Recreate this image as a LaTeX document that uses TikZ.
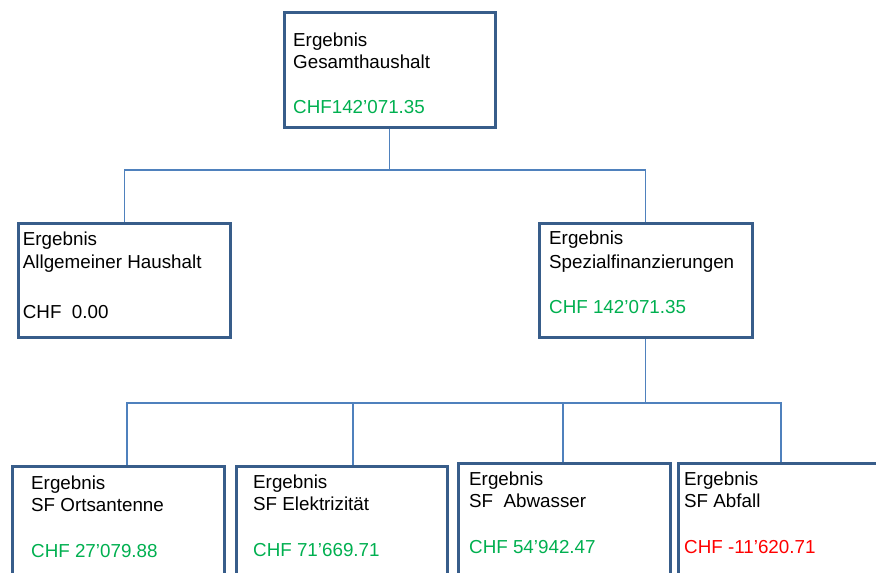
\documentclass[tikz,border=0pt]{standalone}
\usepackage{fontspec}
\setmainfont{Liberation Sans}
\definecolor{boxline}{HTML}{385D8A}
\definecolor{conn}{HTML}{4F81BD}
\definecolor{pos}{HTML}{00B050}
\definecolor{neg}{HTML}{FF0000}
\begin{document}
\begin{tikzpicture}[x=1pt,y=-1pt,
  box/.style={draw=boxline, line width=2.8pt, fill=white, inner sep=0pt, anchor=north west},
  txt/.style={anchor=base west, inner sep=0pt, font=\fontsize{18.8}{22.6}\selectfont},
  amt/.style={txt, text=pos},
  amtneg/.style={txt, text=neg},
  link/.style={draw=conn, line width=1.1pt}]
\useasboundingbox (0,0) rectangle (876,573);
\fill[white] (0,0) rectangle (876,573);
\begin{scope}
\clip (0,0) rectangle (876,573);
% boxes
\node[box, minimum width=211pt, minimum height=115pt] (top) at (283,11) {};
\node[box, minimum width=212pt, minimum height=114pt] (ml) at (17,222) {};
\node[box, minimum width=213pt, minimum height=114pt] (mr) at (538,222) {};
\node[box, minimum width=212pt, minimum height=150pt] (b1) at (11,465) {};
\node[box, minimum width=211pt, minimum height=150pt] (b2) at (235,465) {};
\node[box, minimum width=212pt, minimum height=150pt] (b3) at (457,462) {};
\node[box, minimum width=212pt, minimum height=150pt] (b4) at (677,462) {};
% connectors
\coordinate (bus1) at (389,170);
\draw[link] (top.south) -- (top.south |- bus1);
\draw[link] (ml.north) -- (ml.north |- bus1) -- (mr.north |- bus1) -- (mr.north);
\coordinate (bus2) at (645,403);
\coordinate (d1) at (127,403);
\coordinate (d2) at (353,403);
\coordinate (d3) at (563,403);
\coordinate (d4) at (781,403);
\draw[link] (mr.south) -- (mr.south |- bus2);
\draw[link] (d1 |- b1.north) -- (d1) -- (d4) -- (d4 |- b4.north);
\draw[link] (d2) -- (d2 |- b2.north);
\draw[link] (d3) -- (d3 |- b3.north);
% texts
\node[txt] (t1) at (293,46) {Ergebnis};
\node[txt] (t2) at (293,68) {Gesamthaushalt};
\node[amt] (t3) at (293,113) {CHF142’071.35};
\node[txt] (l1) at (22.7,245) {Ergebnis};
\node[txt] (l2) at (22.7,268) {Allgemeiner Haushalt};
\node[txt] (l3) at (22.7,318) {CHF\ \ 0.00};
\node[txt] (r1) at (549,244) {Ergebnis};
\node[txt] (r2) at (549,268) {Spezialfinanzierungen};
\node[amt] (r3) at (549,313) {CHF 142’071.35};
\node[txt] (a1) at (31,489) {Ergebnis};
\node[txt] (a2) at (31,511) {SF Ortsantenne};
\node[amt] (a3) at (31,557) {CHF 27’079.88};
\node[txt] (e1) at (253,488) {Ergebnis};
\node[txt] (e2) at (253,510) {SF Elektrizität};
\node[amt] (e3) at (253,556) {CHF 71’669.71};
\node[txt] (w1) at (469,485) {Ergebnis};
\node[txt] (w2) at (469,507) {SF\ \ Abwasser};
\node[amt] (w3) at (469,553) {CHF 54’942.47};
\node[txt] (f1) at (684,485) {Ergebnis};
\node[txt] (f2) at (684,507) {SF Abfall};
\node[amtneg] (f3) at (684,553) {CHF -11’620.71};
\end{scope}
\end{tikzpicture}
\end{document}
